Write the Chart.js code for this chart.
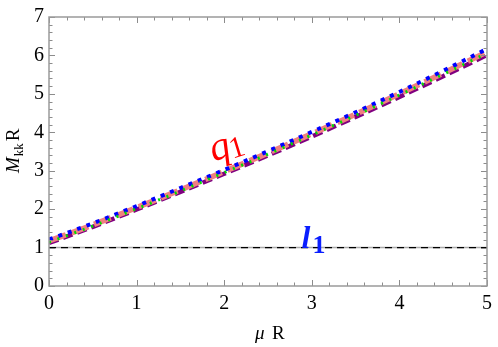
<!DOCTYPE html>
<html><head><meta charset="utf-8">
<script src="https://cdn.jsdelivr.net/npm/chart.js@4/dist/chart.umd.min.js"></script>
<style>html,body{margin:0;padding:0;background:#fff}#wrap{width:498px;height:347px}</style>
</head><body><div id="wrap"><canvas id="c" width="498" height="347"></canvas></div>
<script>
const muR = [0, 0.5, 1, 1.5, 2, 2.5, 3, 3.5, 4, 4.5, 5];
const pinkSeries   = [1.17, 1.59, 2.04, 2.50, 2.98, 3.46, 3.96, 4.47, 5.00, 5.54, 6.09];
const blueSeries   = [1.21, 1.63, 2.08, 2.55, 3.02, 3.51, 4.01, 4.52, 5.05, 5.60, 6.17];
const greenSeries  = [1.14, 1.56, 2.01, 2.47, 2.95, 3.43, 3.93, 4.44, 4.97, 5.51, 6.06];
const purpleSeries = [1.12, 1.54, 1.99, 2.45, 2.92, 3.40, 3.89, 4.40, 4.92, 5.46, 6.01];
const l1Series     = [1, 1];
const l1X          = [0, 5];
const xTicks = [0, 1, 2, 3, 4, 5];
const yTicks = [0, 1, 2, 3, 4, 5, 6, 7];
const labelQ1 = {x: 2.06, y: 3.48};
const labelL1 = {x: 3.02, y: 1.2};

const pts = (xs, ys) => xs.map((x, i) => ({x, y: ys[i]}));
const serif = "'Liberation Serif', 'Times New Roman', serif";
Chart.defaults.font.family = serif;

const decor = {
  id: 'decor',
  afterDraw(chart) {
    const ctx = chart.ctx, a = chart.chartArea;
    const xs = chart.scales.x, ys = chart.scales.y;
    ctx.save();
    ctx.strokeStyle = '#8c8c8c';
    ctx.lineWidth = 1;
    for (let i = 0; i <= 25; i++) {
      const v = i * 0.2;
      const px = Math.round(xs.getPixelForValue(v)) + 0.5;
      const len = (i % 5 === 0) ? 6 : 3.5;
      ctx.beginPath();
      ctx.moveTo(px, a.bottom); ctx.lineTo(px, a.bottom - len);
      ctx.moveTo(px, a.top); ctx.lineTo(px, a.top + len);
      ctx.stroke();
    }
    for (let i = 0; i <= 35; i++) {
      const v = i * 0.2;
      const py = Math.round(ys.getPixelForValue(v)) + 0.5;
      const len = (i % 5 === 0) ? 6 : 3.5;
      ctx.beginPath();
      ctx.moveTo(a.left, py); ctx.lineTo(a.left + len, py);
      ctx.moveTo(a.right, py); ctx.lineTo(a.right - len, py);
      ctx.stroke();
    }
    ctx.strokeStyle = '#9a9a9a';
    ctx.lineWidth = 1.5;
    ctx.strokeRect(a.left, a.top, a.right - a.left, a.bottom - a.top);

    // q1 label
    ctx.fillStyle = '#ff0000';
    ctx.save();
    ctx.translate(xs.getPixelForValue(labelQ1.x), ys.getPixelForValue(labelQ1.y));
    ctx.rotate(-0.3);
    ctx.font = 'italic 40px ' + serif;
    ctx.textBaseline = 'alphabetic';
    ctx.textAlign = 'left';
    ctx.fillText('q', -18, 4);
    ctx.font = '30px ' + serif;
    ctx.fillText('1', 1, 7);
    ctx.restore();

    // l1 label
    ctx.fillStyle = '#0a1eff';
    ctx.save();
    ctx.translate(xs.getPixelForValue(labelL1.x), ys.getPixelForValue(labelL1.y));
    ctx.font = 'italic bold 32px ' + serif;
    ctx.textBaseline = 'alphabetic';
    ctx.fillText('l', -12, 8);
    ctx.font = 'bold 26px ' + serif;
    ctx.fillText('1', -1, 13);
    ctx.restore();

    // x title
    ctx.fillStyle = '#000';
    ctx.textBaseline = 'alphabetic';
    ctx.font = 'italic 19px ' + serif;
    ctx.fillText('\u03bc', 255, 339);
    ctx.font = '19px ' + serif;
    ctx.fillText('R', 272, 339);

    // y title rotated
    ctx.save();
    ctx.translate(19, 173);
    ctx.rotate(-Math.PI / 2);
    ctx.font = 'italic 19px ' + serif;
    ctx.fillText('M', 0, 0);
    const wM = ctx.measureText('M').width;
    ctx.font = '13px ' + serif;
    ctx.fillText('kk', wM + 1, 4);
    const wk = ctx.measureText('kk').width;
    ctx.font = '19px ' + serif;
    ctx.fillText('R', wM + wk + 3, 0);
    ctx.restore();
    ctx.restore();
  }
};

// Chart.js draws the first dataset on top
new Chart(document.getElementById('c'), {
  type: 'scatter',
  data: {
    datasets: [
      {data: pts(muR, greenSeries), showLine: true, borderColor: '#00dd00', borderWidth: 3, borderDash: [2, 7], pointRadius: 0, cubicInterpolationMode: 'monotone'},
      {data: pts(muR, blueSeries), showLine: true, borderColor: '#0000ff', borderWidth: 4, borderDash: [4, 6], pointRadius: 0, cubicInterpolationMode: 'monotone'},
      {data: pts(muR, pinkSeries), showLine: true, borderColor: '#f08080', borderWidth: 5.5, borderDash: [18, 6], pointRadius: 0, cubicInterpolationMode: 'monotone'},
      {data: pts(muR, purpleSeries), showLine: true, borderColor: '#800080', borderWidth: 4.5, borderDash: [10, 5], pointRadius: 0, cubicInterpolationMode: 'monotone'},
      {data: pts(l1X, l1Series), showLine: true, borderColor: '#000000', borderWidth: 1.3, borderDash: [7, 5], pointRadius: 0},
      {data: pts(l1X, l1Series), showLine: true, borderColor: '#aaaaaa', borderWidth: 1.5, pointRadius: 0}
    ]
  },
  options: {
    responsive: false,
    animation: false,
    layout: {padding: {top: 12, right: 5, left: 0, bottom: 0}},
    plugins: {legend: {display: false}, tooltip: {enabled: false}},
    scales: {
      x: {
        type: 'linear', min: 0, max: 5,
        afterBuildTicks: s => { s.ticks = xTicks.map(v => ({value: v})); },
        afterFit: s => { s.height = 61; },
        grid: {display: false, drawTicks: false},
        border: {display: false},
        ticks: {color: '#000', font: {family: serif, size: 20}, padding: 6, maxRotation: 0}
      },
      y: {
        type: 'linear', min: 0, max: 7,
        afterBuildTicks: s => { s.ticks = yTicks.map(v => ({value: v})); },
        afterFit: s => { s.width = 49; },
        grid: {display: false, drawTicks: false},
        border: {display: false},
        ticks: {color: '#000', font: {family: serif, size: 20}, padding: 5}
      }
    }
  },
  plugins: [decor]
});
</script></body></html>
